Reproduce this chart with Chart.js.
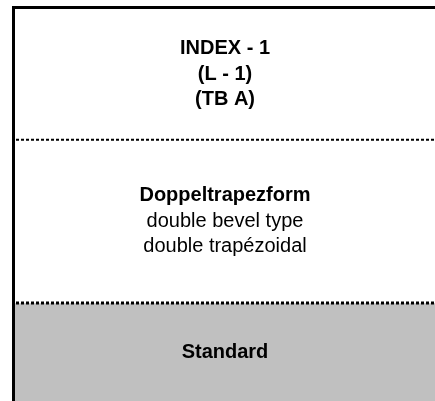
<!DOCTYPE html>
<html>
<head>
<meta charset="utf-8">
<script src="https://cdn.jsdelivr.net/npm/chart.js@4/dist/chart.umd.min.js"></script>
<style>
  html, body { margin: 0; padding: 0; background: #fff; }
  canvas { display: block; }
</style>
</head>
<body>
<canvas id="specChart" width="435" height="401"></canvas>
<script>
// Rows of the spec cell, top to bottom
const rowNames = ['Index', 'Form', 'Execution'];
const rowSpans = [4, 5, 3];
const rowTexts = [
  ['INDEX - 1', '(L - 1)', '(TB A)'],
  ['Doppeltrapezform', 'double bevel type', 'double trapézoidal'],
  ['Standard']
];
const rowFills = ['#ffffff', '#ffffff', '#c0c0c0'];

const FONT = '"Liberation Sans", Arial, Helvetica, sans-serif';

// frame + dotted separators + centred text, all placed from the bar elements
const cellPlugin = {
  id: 'cellPlugin',
  afterDatasetsDraw(chart) {
    const ctx = chart.ctx;
    const area = chart.chartArea;
    ctx.save();

    // dotted separators on the bottom edge of every row but the last
    chart.data.datasets.forEach((ds, i) => {
      if (i === chart.data.datasets.length - 1) return;
      const bar = chart.getDatasetMeta(i).data[0];
      const edge = Math.max(bar.y, bar.base);
      ctx.beginPath();
      ctx.setLineDash([3, 2]);
      ctx.lineWidth = i === 0 ? 2 : 3;
      ctx.strokeStyle = '#000';
      ctx.moveTo(area.left + 1, edge);
      ctx.lineTo(area.right, edge);
      ctx.stroke();
    });
    ctx.setLineDash([]);

    // text
    ctx.fillStyle = '#000';
    ctx.textAlign = 'center';
    ctx.textBaseline = 'middle';
    const lineH = 25.5;
    chart.data.datasets.forEach((ds, i) => {
      const bar = chart.getDatasetMeta(i).data[0];
      const cy = (bar.y + bar.base) / 2;
      const cx = bar.x;
      const lines = rowTexts[i];
      lines.forEach((t, j) => {
        // first row is all bold, other rows only their first line
        const bold = i === 0 || j === 0;
        ctx.font = (bold ? 'bold ' : '') + '20px ' + FONT;
        ctx.fillText(t, cx, cy + (j - (lines.length - 1) / 2) * lineH);
      });
    });

    // left and top frame
    ctx.fillStyle = '#000';
    ctx.fillRect(area.left - 3, area.top - 3, area.right - area.left + 3, 3);
    ctx.fillRect(area.left - 3, area.top - 3, 3, area.bottom - area.top + 3);
    ctx.restore();
  }
};

new Chart(document.getElementById('specChart'), {
  type: 'bar',
  data: {
    labels: [''],
    datasets: rowNames.map((name, i) => ({
      label: name,
      data: [rowSpans[i]],
      backgroundColor: rowFills[i],
      borderWidth: 0,
      barPercentage: 1,
      categoryPercentage: 1
    }))
  },
  options: {
    responsive: false,
    animation: false,
    layout: { padding: { left: 15, top: 9, right: 0, bottom: 0 } },
    plugins: {
      legend: { display: false },
      tooltip: { enabled: false }
    },
    scales: {
      x: { stacked: true, display: false },
      y: {
        stacked: true,
        display: false,
        reverse: true,
        min: 0,
        max: rowSpans.reduce((a, b) => a + b, 0)
      }
    }
  },
  plugins: [cellPlugin]
});
</script>
</body>
</html>
